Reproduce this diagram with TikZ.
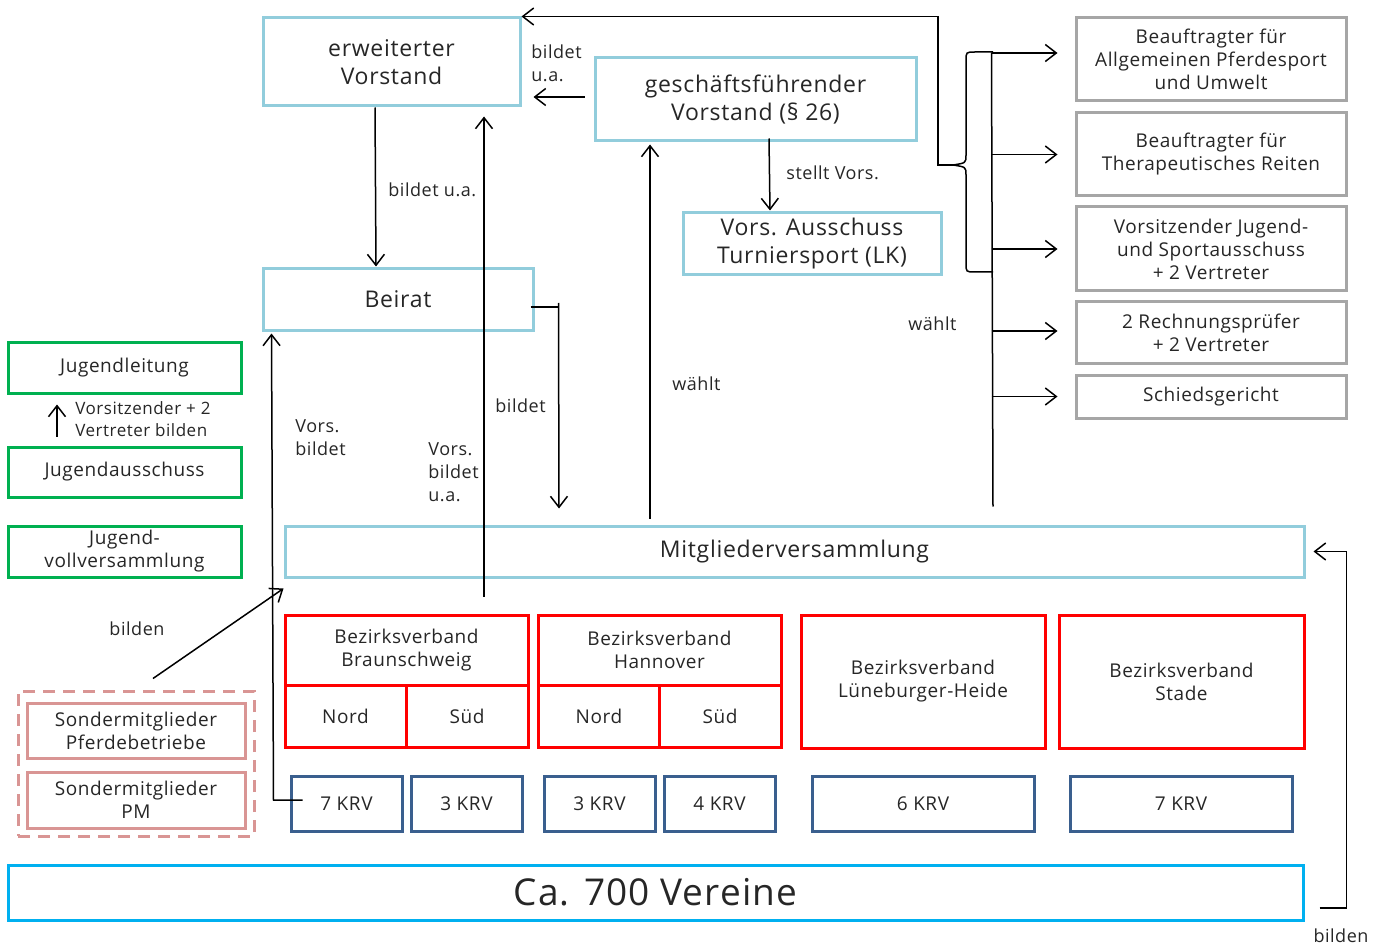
\documentclass[tikz,border=0pt]{standalone}
\usepackage{fontspec}
\setmainfont{Open Sans}[LetterSpace=3]
\usetikzlibrary{arrows.meta,calc}
\definecolor{ink}{HTML}{262626}
\definecolor{vorstand}{HTML}{92CDDC}
\definecolor{jugend}{HTML}{00B050}
\definecolor{amt}{HTML}{A6A6A6}
\definecolor{bezirk}{HTML}{FF0000}
\definecolor{kreis}{HTML}{3A5F8E}
\definecolor{verein}{HTML}{00B0F0}
\definecolor{sonder}{HTML}{D99594}
\tikzset{
  >={Straight Barb[length=5.5pt,width=8.5pt]},
  every node/.style={text=ink,font=\fontsize{9.5}{11.5}\selectfont},
  sz/.style 2 args={minimum width=#1*0.5pt,minimum height=#2*0.5pt},
  box/.style={draw,line width=1.5pt,align=center,inner sep=0pt},
  bluebox/.style={box,draw=vorstand,font=\fontsize{11.5}{14}\selectfont},
  greenbox/.style={box,draw=jugend},
  graybox/.style={box,draw=amt},
  redbox/.style={box,draw=bezirk},
  krvbox/.style={box,draw=kreis},
  pinkbox/.style={box,draw=sonder},
  arrow/.style={->,line width=0.75pt,draw=black},
  conn/.style={line width=0.75pt,draw=black},
  note/.style={align=left,inner sep=0pt,font=\fontsize{9}{11.5}\selectfont},
}
\begin{document}
\begin{tikzpicture}[x=0.5pt,y=-0.5pt]
\useasboundingbox (0,0) rectangle (1389,947);

% Vorstand
\node[bluebox,sz={257}{88}] (ev) at (391.5,62) {erweiterter\\Vorstand};
\node[bluebox,sz={321}{83}] (gv) at (755.5,99.5) {geschäftsführender\\Vorstand (§ 26)};
\node[bluebox,sz={258}{62}] (vat) at (812,244) {Vors. Ausschuss\\Turniersport (LK)};
\node[bluebox,sz={270}{61}] (beirat) at (398,299.5) {Beirat};
\node[bluebox,sz={1019}{51}] (mv) at (794.5,551.5) {Mitgliederversammlung};

% Jugend
\node[greenbox,sz={233}{51}] (jl) at (124.5,367.5) {Jugendleitung};
\node[greenbox,sz={233}{50}] (ja) at (124.5,472) {Jugendausschuss};
\node[greenbox,sz={233}{51}] (jvv) at (124.5,551.5) {Jugend-\\vollversammlung};

% gewaehlte Aemter
\node[graybox,sz={270}{83}] (g1) at (1211,59.5) {Beauftragter für\\Allgemeinen Pferdesport\\und Umwelt};
\node[graybox,sz={270}{83}] (g2) at (1211,154.5) {Beauftragter für\\Therapeutisches Reiten};
\node[graybox,sz={270}{84}] (g3) at (1211,249) {Vorsitzender Jugend-\\und Sportausschuss\\+ 2 Vertreter};
\node[graybox,sz={270}{61}] (g4) at (1211,332.5) {2 Rechnungsprüfer\\+ 2 Vertreter};
\node[graybox,sz={270}{43}] (g5) at (1211,396.5) {Schiedsgericht};

% Bezirksverbaende
\node[redbox,sz={243}{70}] (bvb) at (406.5,650) {Bezirksverband\\Braunschweig};
\node[redbox,sz={121}{62}] (bvbn) at (345.5,716) {Nord};
\node[redbox,sz={122}{62}] (bvbs) at (467,716) {Süd};
\node[redbox,sz={243}{70}] (bvh) at (659.5,650) {Bezirksverband\\Hannover};
\node[redbox,sz={121}{62}] (bvhn) at (599,716) {Nord};
\node[redbox,sz={122}{62}] (bvhs) at (720,716) {Süd};
\node[redbox,sz={244}{133}] (bvl) at (923,681.5) {Bezirksverband\\Lüneburger-Heide};
\node[redbox,sz={245}{133}] (bvs) at (1181.5,681.5) {Bezirksverband\\Stade};

% Kreisreiterverbaende
\foreach \n/\x/\w/\t in {krv1/346.5/111/7 KRV,krv2/466.5/111/3 KRV,krv3/599.5/111/3 KRV,
  krv4/719.5/111/4 KRV,krv5/923/222/6 KRV,krv6/1181/222/7 KRV}
  \node[krvbox,sz={\w}{55}] (\n) at (\x,803.5) {\t};

% Sondermitglieder
\node[pinkbox,draw=sonder,dash pattern=on 6pt off 4pt,sz={236}{145}] (sg) at (136,763.5) {};
\node[pinkbox,sz={218}{55}] (sp) at (136,730.5) {Sondermitglieder\\Pferdebetriebe};
\node[pinkbox,sz={218}{56}] (spm) at (136,800) {Sondermitglieder\\PM};

\node[box,draw=verein,sz={1295}{55},font=\fontsize{18.5}{22}\selectfont] (vereine) at (655.5,892.5) {Ca. 700 Vereine};

% Verbindungen
\draw[arrow] ($(gv.west)+(-9,-2.5)$) -- ($(ev.east)+(12,35)$);
\node[note,anchor=north west] (t1) at (531,44) {bildet\\u.a.};
\draw[arrow] ($(ev.south)+(-16.5,0)$) -- ($(beirat.north)+(-22,-1)$);
\node[note,anchor=west] (t2) at (388,190) {bildet u.a.};
\draw[arrow] ($(gv.south)+(13.5,-4)$) -- ($(vat.north)+(-42,-1)$);
\node[note,anchor=west] (t3) at (786,173) {stellt Vors.};
\draw[arrow] ($(mv.north)+(-144.5,-6)$) -- ($(gv.south)+(-105.5,2)$);
\node[note,anchor=west] (t4) at (672,384) {wählt};
\draw[arrow] ($(bvb.north)+(77.5,-17)$) -- ($(ev.south)+(92.5,9)$);
\node[note,anchor=north west] (t5) at (428,442) {Vors.\\bildet\\u.a.};
\draw[conn] ($(beirat.east)+(-4,7.5)$) -- ++(28,0);
\draw[arrow] ($(beirat.east)+(24,3.5)$) -- ($(mv.north)+(-235.5,-16)$);
\node[note,anchor=west] (t6) at (495,406) {bildet};
\draw[arrow] ($(krv1.west)+(13,-3.5)$) -- ++(-29,0) -- ($(beirat.south west)+(10,2)$);
\node[note,anchor=north west] (t7) at (295,419) {Vors.\\bildet};
\draw[arrow] ($(sg.north)+(17,-11)$) -- ($(mv.south west)+(0,10)$);
\node[note] (t8) at (137,629) {bilden};
\draw[arrow] ($(ja.north)+(-67.5,-9)$) -- ($(jl.south)+(-67.5,10)$);
\node[note,anchor=north west,font=\fontsize{8.5}{11}\selectfont] (t9) at (75,401) {Vorsitzender + 2\\Vertreter bilden};
\draw[arrow] ($(vereine.east)+(15,15.5)$) -- ++(27,0) |- ($(mv.east)+(8,0)$);
\node[note] (t10) at (1341,936) {bilden};

% Mitgliederversammlung waehlt
\draw[conn] ($(g1.west)+(-83,-7)$) -- ($(mv.north)+(198.5,-18)$);
\foreach \g/\dy in {g1/-6.5,g2/0,g3/0,g4/-1.5,g5/0}
  \draw[arrow] ($(\g.west)+(-83,\dy)$) -- ($(\g.west)+(-17,\dy)$);
\node[note,anchor=west] (t11) at (908,324) {wählt};

% Klammer
\coordinate (bt) at (993,52);
\coordinate (bb) at (993,272);
\coordinate (tip) at (953,165);
\draw[conn] (bt) -- (975,52) .. controls (966,52) .. (966,61) -- (966,155)
  .. controls (966,163) .. (tip) .. controls (966,167) .. (966,175) -- (966,263)
  .. controls (966,272) .. (975,272) -- (bb);
\draw[arrow] (tip) -- ++(-15,0) |- (ev.north east);
\end{tikzpicture}
\end{document}
